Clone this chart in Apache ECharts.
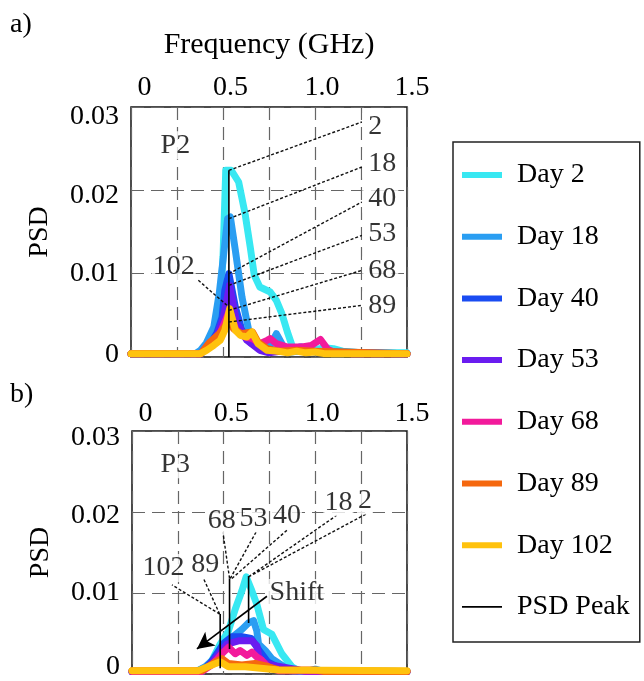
<!DOCTYPE html>
<html><head><meta charset="utf-8">
<script src="https://cdn.jsdelivr.net/npm/echarts@6/dist/echarts.min.js"></script>
<style>html,body{margin:0;padding:0;background:#fff}#c{width:644px;height:681px}</style>
</head><body><div id="c"></div>
<script>
const FONT = "'Liberation Serif', 'Times New Roman', 'DejaVu Serif', serif";
const dayNames = ['Day 2','Day 18','Day 40','Day 53','Day 68','Day 89','Day 102'];
const dayColors = ['#38e8f2','#2a9ef2','#1a4cf2','#6a1cf0','#f21a9b','#f5680f','#ffc20d'];
const xTickValues = [0, 0.5, 1, 1.5];
const xTickLabels = ['0','0.5','1.0','1.5'];
const yTickLabels = ['0','0.01','0.02','0.03'];

// ---- Panel a (P2): PSD vs frequency (GHz)
const aDay2 = [[0,0.0004],[0.35,0.0004],[0.40,0.0008],[0.45,0.0022],[0.49,0.008],[0.50,0.012],[0.515,0.0224],[0.545,0.0224],[0.585,0.0210],[0.62,0.0172],[0.648,0.0132],[0.67,0.0098],[0.70,0.0084],[0.757,0.0078],[0.79,0.0068],[0.82,0.0052],[0.85,0.003],[0.875,0.0014],[0.90,0.0007],[0.95,0.0008],[1.0,0.0009],[1.05,0.0011],[1.1,0.0010],[1.15,0.0007],[1.25,0.0005],[1.5,0.0005]];
const aDay18 = [[0,0.0004],[0.35,0.0004],[0.377,0.0008],[0.41,0.0017],[0.45,0.0036],[0.48,0.0077],[0.50,0.0116],[0.525,0.0166],[0.54,0.0168],[0.567,0.0128],[0.603,0.0072],[0.64,0.0032],[0.68,0.0017],[0.72,0.0014],[0.766,0.0017],[0.79,0.0028],[0.83,0.0012],[0.87,0.0006],[0.95,0.0008],[1.0,0.0006],[1.5,0.0004]];
const aDay40 = [[0,0.0004],[0.38,0.0004],[0.43,0.0015],[0.467,0.0029],[0.495,0.0048],[0.51,0.008],[0.532,0.0100],[0.567,0.006],[0.603,0.0032],[0.65,0.0017],[0.70,0.001],[0.80,0.0008],[0.9,0.0009],[0.93,0.0012],[0.97,0.0007],[1.5,0.0004]];
const aDay53 = [[0,0.0004],[0.38,0.0004],[0.43,0.0016],[0.47,0.0027],[0.50,0.0045],[0.536,0.0086],[0.576,0.0040],[0.63,0.0020],[0.70,0.0008],[0.75,0.0005],[0.85,0.0008],[0.92,0.0012],[0.96,0.0008],[1.05,0.0005],[1.5,0.0004]];
const aDay68 = [[0,0.0004],[0.38,0.0004],[0.43,0.0018],[0.48,0.0026],[0.536,0.0056],[0.57,0.0032],[0.62,0.0024],[0.66,0.0022],[0.70,0.0016],[0.74,0.0020],[0.757,0.0022],[0.79,0.0016],[0.85,0.0012],[0.93,0.0012],[0.98,0.0014],[1.03,0.0021],[1.07,0.0009],[1.1,0.0006],[1.2,0.0004],[1.5,0.0004]];
const aDay89 = [[0,0.0004],[0.38,0.0004],[0.43,0.0018],[0.48,0.0028],[0.536,0.0044],[0.557,0.0034],[0.60,0.0028],[0.63,0.0029],[0.66,0.0030],[0.69,0.0018],[0.74,0.001],[0.80,0.0007],[0.9,0.0008],[1.0,0.0007],[1.5,0.0004]];
const aDay102 = [[0,0.0004],[0.377,0.0004],[0.41,0.0008],[0.45,0.0014],[0.485,0.002],[0.51,0.0032],[0.536,0.0058],[0.567,0.0032],[0.594,0.0026],[0.63,0.0024],[0.657,0.003],[0.69,0.0016],[0.74,0.0008],[0.80,0.0007],[0.85,0.0005],[0.9,0.0007],[0.95,0.0005],[1.0,0.0006],[1.05,0.0004],[1.5,0.0004]];
// peak marker segments [x0,y0,x1,y1]
const aPeakSegs = [[0.532,0,0.532,0.0224]];
// leader lines [x0,y0,x1,y1]
const aLeaders = [[0.532,0.0224,1.255,0.0282],[0.532,0.0166,1.255,0.0228],[0.532,0.0100,1.255,0.0186],[0.532,0.0086,1.255,0.0146],[0.532,0.0056,1.255,0.0104],[0.532,0.0042,1.255,0.0062],[0.366,0.0092,0.532,0.0060]];
// right column labels (left-aligned) [text,x,y]
const aRightLabels = [['2',1.257,0.0276],['18',1.257,0.0232],['40',1.257,0.0190],['53',1.257,0.0148],['68',1.257,0.0104],['89',1.257,0.0062]];
// centered labels [text,x,y]
const aCenterLabels = [['102',0.232,0.0108],['P2',0.241,0.0254]];

// ---- Panel b (P3)
const bDay2 = [[0,0.0003],[0.35,0.0003],[0.40,0.0008],[0.436,0.0017],[0.481,0.0037],[0.526,0.0053],[0.563,0.0080],[0.60,0.0103],[0.623,0.0120],[0.65,0.0105],[0.681,0.0086],[0.717,0.0055],[0.763,0.0049],[0.817,0.0025],[0.872,0.0009],[0.92,0.0003],[1.0,0.0004],[1.5,0.0003]];
const bDay18 = [[0,0.0003],[0.35,0.0003],[0.40,0.0009],[0.454,0.0020],[0.545,0.0045],[0.599,0.0055],[0.635,0.0063],[0.663,0.0066],[0.681,0.0053],[0.69,0.0037],[0.727,0.0029],[0.763,0.0019],[0.817,0.0011],[0.86,0.0004],[0.95,0.0003],[1.0,0.0006],[1.05,0.0003],[1.5,0.0003]];
const bDay40 = [[0,0.0003],[0.38,0.0003],[0.43,0.0014],[0.50,0.0038],[0.545,0.0046],[0.60,0.0046],[0.65,0.0044],[0.69,0.0030],[0.74,0.0015],[0.80,0.0008],[0.9,0.0004],[1.5,0.0003]];
const bDay53 = [[0,0.0003],[0.38,0.0003],[0.43,0.0012],[0.518,0.0037],[0.581,0.0041],[0.654,0.0041],[0.681,0.0035],[0.69,0.0023],[0.708,0.0015],[0.763,0.0011],[0.89,0.0006],[0.95,0.0003],[1.5,0.0003]];
const bDay68 = [[0,0.0003],[0.38,0.0003],[0.44,0.0012],[0.49,0.0025],[0.527,0.0033],[0.563,0.0025],[0.59,0.0029],[0.627,0.0023],[0.654,0.0027],[0.681,0.0021],[0.708,0.0017],[0.74,0.0009],[0.80,0.0004],[1.5,0.0003]];
const bDay89 = [[0,0.0004],[0.38,0.0004],[0.454,0.0015],[0.49,0.0019],[0.526,0.0013],[0.599,0.0011],[0.672,0.0013],[0.745,0.0009],[0.80,0.0005],[1.0,0.0005],[1.05,0.0003],[1.5,0.0003]];
const bDay102 = [[0,0.0004],[0.36,0.0004],[0.381,0.0006],[0.436,0.0011],[0.481,0.0015],[0.526,0.0009],[0.618,0.0009],[0.80,0.0005],[1.5,0.0004]];
const bPeakSegs = [[0.636,0.0063,0.636,0.0121],[0.532,0.0031,0.532,0.0118],[0.481,0.0007,0.481,0.0074]];
const bLeaders = [[0.636,0.0120,1.281,0.0198],[0.636,0.0120,1.117,0.0196],[0.545,0.0118,0.853,0.0179],[0.536,0.0118,0.681,0.0177],[0.532,0.0118,0.496,0.0175],[0.478,0.0074,0.39,0.0118],[0.478,0.0074,0.218,0.0110]];
const bCenterLabels = [['2',1.271,0.0214],['18',1.126,0.0212],['40',0.845,0.0196],['53',0.663,0.0192],['68',0.490,0.0189],['89',0.399,0.0135],['102',0.172,0.0131],['P3',0.236,0.0259],['Shift',0.899,0.0100]];
const bShiftArrow = [[0.736,0.0096],[0.354,0.0031]];

const aCurves = [aDay2,aDay18,aDay40,aDay53,aDay68,aDay89,aDay102];
const bCurves = [bDay2,bDay18,bDay40,bDay53,bDay68,bDay89,bDay102];

const INK = '#000';
const xShift = [27, 15, 14, 10];
function xAxisOf(gi, withName){
  const rich = {};
  xShift.forEach((s,i)=>{ rich['x'+i] = {fontFamily:FONT,fontSize:28,color:INK,padding:[0,0,0,s]}; });
  const ax = {
    type:'value', gridIndex:gi, position:'top', min:0, max:1.5, interval:0.25,
    axisLine:{show:false}, axisTick:{show:false},
    splitLine:{show:true, lineStyle:{color:'#666', width:1.2, type:[13,7]}},
    axisLabel:{show:true, margin: gi===0?5:3, fontFamily:FONT, fontSize:28, color:INK,
      formatter: v => { const i = xTickValues.findIndex(t=>Math.abs(t-v)<1e-6); return i<0 ? '' : '{x'+i+'|'+xTickLabels[i]+'}'; },
      rich}
  };
  if(withName){
    Object.assign(ax,{name:'Frequency (GHz)', nameLocation:'middle', nameGap:47, nameTextStyle:{fontFamily:FONT,fontSize:30,color:INK}});
  }
  return ax;
}
// offs: vertical shift (px, + = down) for labels '0','0.01','0.02','0.03'
function yAxisOf(gi, offs){
  const rich = {};
  offs.forEach((o,i)=>{ rich['y'+i] = {fontFamily:FONT,fontSize:28,color:INK,padding: o>=0 ? [2*o,0,0,0] : [0,0,-2*o,0]}; });
  return {
    type:'value', gridIndex:gi, min:0, max:0.03, interval:0.01,
    axisLine:{show:false}, axisTick:{show:false},
    splitLine:{show:true, lineStyle:{color:'#666', width:1.2, type:[13,7]}},
    axisLabel:{margin:12, fontFamily:FONT, fontSize:28, color:INK,
      formatter: v => { const i = Math.round(v/0.01); return '{y'+i+'|'+yTickLabels[i]+'}'; }, rich},
    name:'PSD', nameLocation:'middle', nameRotate:90, nameGap:77,
    nameTextStyle:{fontFamily:FONT,fontSize:28,color:INK}
  };
}
function segData(segs){
  const d = [];
  segs.forEach((s,k)=>{ if(k) d.push([s[0],'-']); d.push([s[0],s[1]],[s[2],s[3]]); });
  return d;
}
function curveSeries(data,i,gi){
  return {type:'line', name:dayNames[i], xAxisIndex:gi, yAxisIndex:gi, data, symbol:'none', showSymbol:false,
    lineStyle:{color:dayColors[i], width:7, join:'round', cap:'round'}, itemStyle:{color:dayColors[i]}, z:2, silent:true};
}
function peakSeries(segs,gi){
  return {type:'line', name:'PSD Peak', xAxisIndex:gi, yAxisIndex:gi, data:segData(segs), symbol:'none', connectNulls:false,
    lineStyle:{color:'#000', width:1.6}, itemStyle:{color:'#000'}, z:4, silent:true};
}
function leaderSeries(segs,gi){
  return {type:'line', name:'leaders'+gi, xAxisIndex:gi, yAxisIndex:gi, data:segData(segs), symbol:'none', connectNulls:false,
    lineStyle:{color:'#111', width:1.4, type:[3,2]}, z:5, silent:true};
}
function labelSeries(items,gi,pos){
  return {type:'scatter', name:'labels'+gi+pos, xAxisIndex:gi, yAxisIndex:gi, symbolSize:0, silent:true, z:10,
    data: items.map(t=>({name:t[0], value:[t[1],t[2]]})),
    label:{show:true, formatter:'{b}', position:pos, distance:0, fontFamily:FONT, fontSize:28, color:INK,
      backgroundColor:'#fff', padding: pos==='right' ? [0,2,0,6] : [0,1,0,1]}};
}

const series = [];
aCurves.forEach((d,i)=>series.push(curveSeries(d,i,0)));
bCurves.forEach((d,i)=>series.push(curveSeries(d,i,1)));
series.push(peakSeries(aPeakSegs,0), peakSeries(bPeakSegs,1));
series.push(leaderSeries(aLeaders,0), leaderSeries(bLeaders,1));
series.push(labelSeries(aRightLabels,0,'right'), labelSeries(aCenterLabels,0,'inside'), labelSeries(bCenterLabels,1,'inside'));
series.push({type:'line', name:'shift', xAxisIndex:1, yAxisIndex:1, data:[], z:6, silent:true,
  markLine:{silent:true, symbol:['none','arrow'], symbolSize:[13,17], animation:false,
    lineStyle:{color:'#000', width:1.6, type:'solid'}, label:{show:false},
    data:[[{coord:bShiftArrow[0]},{coord:bShiftArrow[1]}]]}});

const option = {
  animation:false,
  backgroundColor:'#fff',
  textStyle:{fontFamily:FONT},
  title:[
    {text:'a)', left:10, top:11, padding:0, textStyle:{fontFamily:FONT,fontSize:28,fontWeight:'normal',color:INK}},
    {text:'b)', left:10, top:381, padding:0, textStyle:{fontFamily:FONT,fontSize:28,fontWeight:'normal',color:INK}}
  ],
  grid:[
    {left:131, top:107, width:276, height:250, show:true, borderColor:'#111', borderWidth:1.5},
    {left:132, top:431, width:275, height:246, show:true, borderColor:'#111', borderWidth:1.5}
  ],
  xAxis:[xAxisOf(0,true), xAxisOf(1,false)],
  yAxis:[yAxisOf(0,[-2,0,5.5,9.5]), yAxisOf(1,[-7,0,4,7])],
  legend:{orient:'vertical', left:453, top:142, padding:[18,10,20,9], itemGap:31.7, itemWidth:40, itemHeight:6,
    icon:'rect', borderColor:'#222', borderWidth:1.5, selectedMode:false,
    textStyle:{fontFamily:FONT,fontSize:28,color:INK,lineHeight:30,padding:[0,0,0,10]},
    data:[...dayNames.map(n=>({name:n})), {name:'PSD Peak', icon:'path://M0,0h40v1.6h-40z'}]},
  series
};
const chart = echarts.init(document.getElementById('c'), null, {renderer:'canvas'});
chart.setOption(option);
</script></body></html>
